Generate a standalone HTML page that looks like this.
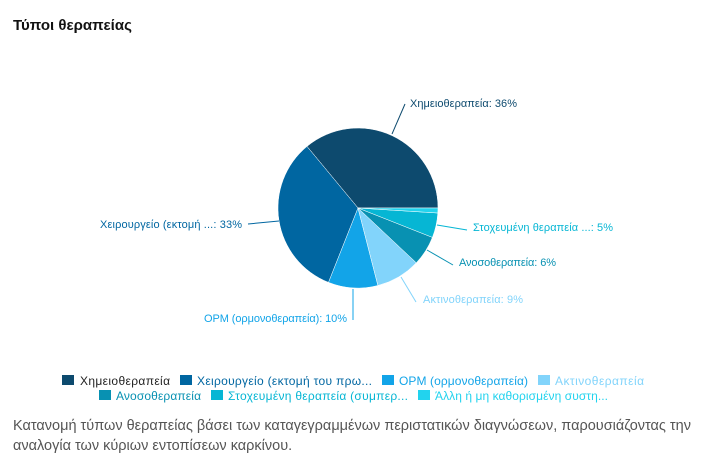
<!DOCTYPE html>
<html><head><meta charset="utf-8"><style>
body{margin:0;width:711px;height:475px;background:#fff;font-family:"Liberation Sans",sans-serif;overflow:hidden;position:relative}
.t{position:absolute;left:13px;top:17px;font-size:15px;font-weight:bold;color:#111}
.d{position:absolute;left:13px;top:416px;width:695px;font-size:14.5px;line-height:20px;color:#555}
</style></head><body>
<div class="t">Τύποι θεραπείας</div>
<svg width="711" height="410" style="position:absolute;left:0;top:0" font-family="Liberation Sans, sans-serif" font-size="11">
<g stroke="#fff" stroke-width="0.5">
<path d="M358,208 L438,208 A80,80 0 0 0 307,146.4Z" fill="#0d4a6e"/>
<path d="M358,208 L307,146.4 A80,80 0 0 0 328.5,282.4Z" fill="#0066a1"/>
<path d="M358,208 L328.5,282.4 A80,80 0 0 0 377.9,285.5Z" fill="#12a4e8"/>
<path d="M358,208 L377.9,285.5 A80,80 0 0 0 416.3,262.8Z" fill="#82d4fb"/>
<path d="M358,208 L416.3,262.8 A80,80 0 0 0 432.4,237.4Z" fill="#0891b2"/>
<path d="M358,208 L432.4,237.4 A80,80 0 0 0 437.8,213Z" fill="#06b6d4"/>
<path d="M358,208 L437.8,213 A80,80 0 0 0 438,208Z" fill="#22d3ee"/>
</g>
<g fill="none" stroke-width="1">
<path d="M392,134 L405,104" stroke="#0d4a6e"/>
<path d="M279,221 L248,224" stroke="#0066a1"/>
<path d="M353,289 L353,320" stroke="#12a4e8"/>
<path d="M401,277 L416,302" stroke="#82d4fb"/>
<path d="M427,250 L453,265" stroke="#0891b2"/>
<path d="M437,225 L467,230" stroke="#06b6d4"/>
</g>
<text x="410" y="107" fill="#0d4a6e" textLength="107">Χημειοθεραπεία: 36%</text>
<text x="100" y="228" fill="#0066a1" textLength="142">Χειρουργείο (εκτομή ...: 33%</text>
<text x="204" y="322" fill="#12a4e8" textLength="143">ΟΡΜ (ορμονοθεραπεία): 10%</text>
<text x="423" y="303" fill="#82d4fb" textLength="100">Ακτινοθεραπεία: 9%</text>
<text x="459" y="266" fill="#0891b2" textLength="97">Ανοσοθεραπεία: 6%</text>
<text x="473" y="231" fill="#06b6d4" textLength="140">Στοχευμένη θεραπεία ...: 5%</text>
<g font-size="12">
<rect x="62" y="375" width="12" height="10" fill="#0d4a6e"/><text x="80" y="385" fill="#222" textLength="90">Χημειοθεραπεία</text>
<rect x="180" y="375" width="12" height="10" fill="#0066a1"/><text x="197" y="385" fill="#0066a1" textLength="175">Χειρουργείο (εκτομή του πρω...</text>
<rect x="382" y="375" width="12" height="10" fill="#12a4e8"/><text x="399" y="385" fill="#12a4e8" textLength="129">ΟΡΜ (ορμονοθεραπεία)</text>
<rect x="538" y="375" width="12" height="10" fill="#82d4fb"/><text x="555" y="385" fill="#82d4fb" textLength="89">Ακτινοθεραπεία</text>
<rect x="99" y="390" width="12" height="10" fill="#0891b2"/><text x="116" y="400" fill="#0891b2" textLength="85">Ανοσοθεραπεία</text>
<rect x="211" y="390" width="12" height="10" fill="#06b6d4"/><text x="228" y="400" fill="#06b6d4" textLength="180">Στοχευμένη θεραπεία (συμπερ...</text>
<rect x="418" y="390" width="12" height="10" fill="#22d3ee"/><text x="435" y="400" fill="#22d3ee" textLength="173">Άλλη ή μη καθορισμένη συστη...</text>
</g>
</svg>
<div class="d">Κατανομή τύπων θεραπείας βάσει των καταγεγραμμένων περιστατικών διαγνώσεων, παρουσιάζοντας την αναλογία των κύριων εντοπίσεων καρκίνου.</div>
</body></html>
